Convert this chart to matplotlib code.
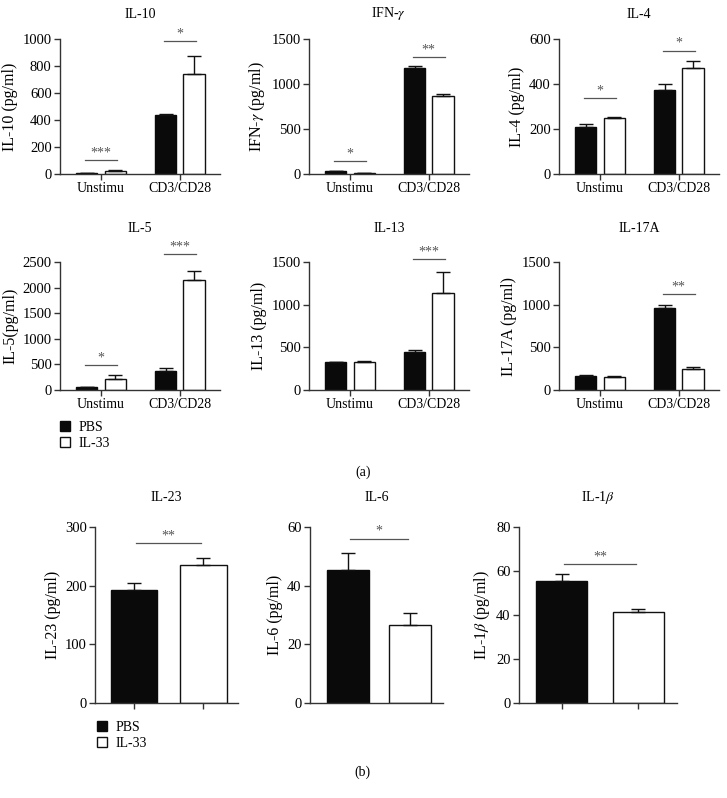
import numpy as np
import matplotlib
matplotlib.use('Agg')
import matplotlib.pyplot as plt
from matplotlib.patches import Patch

plt.rcParams['font.family'] = ['Liberation Serif', 'DejaVu Serif']
plt.rcParams['mathtext.fontset'] = 'stix'

# ---- data (a): splenocytes, unstimulated vs CD3/CD28 ----
conds = ['Unstimu', 'CD3/CD28']
titles_a = ['IL-10', r'IFN-$\gamma$', 'IL-4', 'IL-5', 'IL-13', 'IL-17A']
ylabels_a = ['IL-10 (pg/ml)', r'IFN-$\gamma$ (pg/ml)', 'IL-4 (pg/ml)',
             'IL-5(pg/ml)', 'IL-13 (pg/ml)', 'IL-17A (pg/ml)']
pbs_a = [[7, 437], [28, 1181], [207, 373], [52, 366], [325, 443], [168, 960]]
pbs_a_err = [[2, 7], [10, 18], [17, 25], [4, 71], [3, 31], [12, 35]]
il33_a = [[22, 743], [11, 863], [250, 471], [215, 2147], [325, 1140], [153, 243]]
il33_a_err = [[4, 134], [3, 25], [5, 33], [85, 183], [12, 243], [8, 23]]
ymax_a = [1000, 1500, 600, 2500, 1500, 1500]
ystep_a = [200, 500, 200, 500, 500, 500]
stars_a = [['***', '*'], ['*', '**'], ['*', '*'], ['*', '***'], ['', '***'], ['', '**']]
star_y_a = [[101, 983], [141, 1300], [338, 548], [490, 2660], [0, 1535], [0, 1124]]

# ---- data (b) ----
titles_b = ['IL-23', 'IL-6', r'IL-1$\beta$']
ylabels_b = ['IL-23 (pg/ml)', 'IL-6 (pg/ml)', r'IL-1$\beta$ (pg/ml)']
pbs_b = [193, 45.5, 55.6]
pbs_b_err = [11, 5.6, 3]
il33_b = [236, 26.7, 41.5]
il33_b_err = [11, 4, 1.1]
ymax_b = [300, 60, 80]
ystep_b = [100, 20, 20]
stars_b = ['**', '*', '**']
star_y_b = [273, 56, 63]

W, H = 727, 798
AX = '#333333'
SIG = '#555555'


def rect(l, t, r, b):
    return [l / W, 1 - b / H, (r - l) / W, (b - t) / H]


def style(ax, ymax, step):
    for s in ['top', 'right']:
        ax.spines[s].set_visible(False)
    for s in ['left', 'bottom']:
        ax.spines[s].set_color(AX)
        ax.spines[s].set_linewidth(1.0)
    ax.set_ylim(0, ymax)
    ax.set_yticks(np.arange(0, ymax + 1, step))
    ax.tick_params(direction='out', length=4, width=1, color=AX, labelsize=10.5, pad=2)


fig = plt.figure(figsize=(W / 100, H / 100), dpi=100)

# panel (a)
lefts_a = [60, 309, 559, 60, 309, 559]
rows_a = [(39, 174), (262, 390)]
title_y_a = [14, 229]
bw = 0.27
off = 0.18
xc = np.arange(len(conds))
ekw = dict(elinewidth=1, capthick=1, ecolor='#111')
for i in range(6):
    t, b = rows_a[i // 3]
    l = lefts_a[i]
    ax = fig.add_axes(rect(l, t, l + 160, b))
    ax.bar(xc - off, pbs_a[i], bw, color='#0a0a0a', edgecolor='#0a0a0a', linewidth=1,
           yerr=[[0, 0], pbs_a_err[i]], capsize=5, error_kw=ekw)
    ax.bar(xc + off, il33_a[i], bw, color='white', edgecolor='#111', linewidth=1,
           yerr=[[0, 0], il33_a_err[i]], capsize=5, error_kw=ekw)
    style(ax, ymax_a[i], ystep_a[i])
    ax.set_xlim(-0.52, 1.51)
    ax.set_xticks(xc)
    ax.set_xticklabels(conds, fontsize=10)
    ax.set_ylabel(ylabels_a[i], fontsize=11.5, labelpad=3)
    for g in range(2):
        s = stars_a[i][g]
        if s:
            yy = star_y_a[i][g]
            ax.plot([g - 0.2, g + 0.2], [yy, yy], color=SIG, lw=0.9, clip_on=False)
            ax.annotate(s, (g, yy), xytext=(0, 0.5), textcoords='offset points',
                        ha='center', va='bottom', fontsize=10, color=SIG, annotation_clip=False)
    fig.text((l + 80) / W, 1 - title_y_a[i // 3] / H, titles_a[i], ha='center', va='center', fontsize=10)

# panel (b)
lefts_b = [95, 310, 519]
rights_b = [238, 443, 677]
xlims_b = [(-0.56, 1.5), (-0.6, 1.52), (-0.56, 1.51)]
show_ticks_b = [True, False, True]
for i in range(3):
    ax = fig.add_axes(rect(lefts_b[i], 527, rights_b[i], 703))
    ax.bar([0], [pbs_b[i]], 0.67, color='#0a0a0a', edgecolor='#0a0a0a', linewidth=1,
           yerr=[[0], [pbs_b_err[i]]], capsize=5, error_kw=ekw)
    ax.bar([1], [il33_b[i]], 0.67, color='white', edgecolor='#111', linewidth=1,
           yerr=[[0], [il33_b_err[i]]], capsize=5, error_kw=ekw)
    style(ax, ymax_b[i], ystep_b[i])
    ax.set_xlim(*xlims_b[i])
    if show_ticks_b[i]:
        ax.set_xticks([0, 1])
        ax.set_xticklabels(['', ''])
    else:
        ax.set_xticks([])
    ax.set_ylabel(ylabels_b[i], fontsize=11.5, labelpad=3)
    yy = star_y_b[i]
    ax.plot([0.03, 0.97], [yy, yy], color=SIG, lw=0.9, clip_on=False)
    ax.annotate(stars_b[i], (0.5, yy), xytext=(0, 0.5), textcoords='offset points',
                ha='center', va='bottom', fontsize=10, color=SIG, annotation_clip=False)
    fig.text((lefts_b[i] + rights_b[i]) / 2 / W, 1 - 497 / H, titles_b[i], ha='center', va='center', fontsize=10)

handles = [Patch(facecolor='#0a0a0a', edgecolor='#0a0a0a'), Patch(facecolor='white', edgecolor='#111')]
for x0, y0 in [(60, 421), (97, 721)]:
    fig.legend(handles, ['PBS', 'IL-33'], loc='upper left', bbox_to_anchor=(x0 / W, 1 - y0 / H),
               frameon=False, handlelength=0.75, handleheight=0.75, handletextpad=0.6,
               labelspacing=0.2, fontsize=10, borderaxespad=0, borderpad=0)

fig.text(363 / W, 1 - 472 / H, '(a)', ha='center', va='center', fontsize=10)
fig.text(362 / W, 1 - 772 / H, '(b)', ha='center', va='center', fontsize=10)

fig.savefig('out.png', dpi=100)
